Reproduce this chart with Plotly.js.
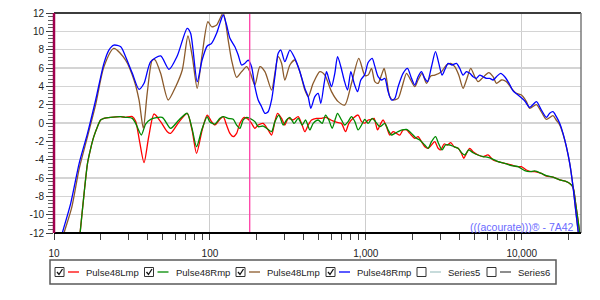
<!DOCTYPE html>
<html><head><meta charset="utf-8">
<script src="https://cdn.plot.ly/plotly-3.0.1.min.js"></script>
<style>html,body{margin:0;padding:0;background:#fff}#chart{width:600px;height:300px}</style>
</head><body><div id="chart"></div>
<script>
// ---------------- data ----------------
const seriesNames = ['Pulse48Lmp', 'Pulse48Rmp', 'Pulse48Lmp', 'Pulse48Rmp', 'Series5', 'Series6'];
const seriesChecked = [true, true, true, true, false, false];

// [frequency Hz, level dB]
const redCurve = [[14.4,-13.5],[14.7,-12],[15.6,-7.67],[16.4,-4.4],[17.2,-2.76],[18.0,-1.49],[19.0,-0.4],[19.9,0.33],[20.9,0.51],[23.1,0.62],[26.8,0.69],[28.8,0.62],[31.8,0.7],[33.4,0.2],[35.3,-1.9],[37.8,-4.33],[40.5,-1.5],[43.8,0.98],[48.3,0.15],[53.3,-0.95],[56,-1.13],[63.3,0.1],[71.5,1.06],[76.8,-0.76],[82.1,-3.31],[89.2,-0.76],[96.1,0.87],[102.5,0.15],[107.7,-0.22],[115.9,0.4],[121.7,0.69],[127.9,-0.22],[134.4,-1.13],[141.1,-1.49],[148.3,-1.13],[155.7,-0.04],[166,0.62],[176.1,0.4],[185,-0.04],[194.3,-0.58],[204,-0.22],[219.6,-0.04],[236.4,-0.76],[248.6,-1.31],[261.1,0.15],[271.6,1.06],[288.2,0.51],[302.5,-0.22],[317.7,0.51],[342,0.33],[368.2,0.69],[387,-0.04],[406.4,-0.95],[426.9,-0.22],[448.7,0.33],[483,0.51],[520,0.51],[555,0.62],[596.8,0.33],[632.6,0.15],[664.7,0.04],[698.4,-0.04],[741.2,-0.95],[778.4,-0.04],[829.3,0.51],[892.4,0.87],[938.5,0.15],[990,0.0],[1035,0.33],[1088,0.4],[1130,0.51],[1189,-0.76],[1248,-0.04],[1291,0.33],[1357,-0.4],[1425,-1.31],[1496,-0.95],[1573,-1.13],[1652,-1.31],[1734,-0.76],[1824,-0.76],[1915,-1.13],[2061,-1.67],[2163,-1.49],[2275,-2.04],[2389,-2.58],[2509,-2.76],[2637,-2.4],[2769,-2.04],[2909,-2.76],[3026,-2.94],[3177,-2.29],[3340,-2.4],[3508,-2.14],[3681,-2.58],[3906,-2.76],[4108,-3.31],[4249,-3.85],[4420,-3.31],[4642,-2.76],[4874,-3.13],[5248,-3.49],[5650,-3.67],[6081,-3.49],[6549,-4.03],[7047,-4.22],[7780,-4.4],[8590,-4.58],[9250,-4.76],[9955,-4.76],[10720,-5.13],[11540,-5.31],[12110,-5.31],[13370,-5.5],[14390,-5.8],[15870,-5.9],[17520,-6.2],[19340,-6.4],[20320,-6.6],[21330,-7.0],[22180,-8.8],[22960,-10.6],[23500,-12],[24000,-13]];

const greenCurve = [[14.4,-13.5],[14.7,-12],[15.6,-7.67],[16.4,-4.4],[17.2,-2.76],[18.0,-1.49],[19.0,-0.4],[19.9,0.33],[20.9,0.51],[23.1,0.62],[26.8,0.69],[28.8,0.62],[31.8,0.51],[33.4,-0.04],[36.3,-1.31],[38.7,-0.11],[41.7,0.4],[49.4,0.62],[56,-0.58],[63.3,0.33],[71.5,1.06],[76.8,-0.6],[82.1,-2.58],[89.2,-0.6],[96.1,0.69],[100,0.1],[107.7,-0.11],[115.9,0.51],[121.7,0.69],[131,0.51],[141.1,0.4],[148.3,-0.22],[155.7,-0.58],[163.5,0.33],[171.9,0.62],[180.4,0.51],[194.3,0.15],[204,-0.4],[219.6,-0.33],[230.8,-0.58],[248.6,-0.95],[261.1,0.15],[276.8,0.87],[295.1,-0.22],[310.2,0.33],[325.8,0.62],[347,-0.04],[368.2,0.51],[390.7,-0.22],[410.7,0.33],[437.5,-0.76],[459.6,-0.04],[494.7,0.33],[524.8,-0.04],[551.6,0.87],[579.4,0.33],[608.2,-0.58],[639.2,0.51],[658.6,1.06],[698.4,0.33],[733.3,-0.22],[770.3,0.15],[809.3,0.69],[850.6,0.15],[892.4,-0.76],[938.5,-0.22],[985,0.4],[1035,-0.04],[1098,0.51],[1154,0.15],[1230,-0.4],[1324,-0.04],[1390,-0.76],[1461,-1.31],[1535,-1.13],[1611,-0.95],[1709,-0.76],[1824,-0.7],[1963,-1.13],[2113,-1.67],[2219,-1.85],[2389,-2.4],[2509,-2.76],[2637,-2.04],[2798,-1.49],[2938,-2.29],[3084,-2.94],[3242,-2.4],[3456,-2.4],[3681,-2.58],[3906,-2.76],[4145,-3.31],[4313,-3.49],[4573,-2.94],[4874,-3.24],[5248,-3.49],[5650,-3.67],[6081,-3.74],[6549,-3.96],[7047,-4.22],[7780,-4.4],[8590,-4.65],[9470,-4.76],[10460,-5.2],[11250,-5.31],[12110,-5.23],[13370,-5.5],[14390,-5.75],[15870,-5.9],[17520,-6.2],[19340,-6.4],[20320,-6.6],[21330,-7.0],[22180,-8.8],[22960,-10.6],[23600,-12],[24000,-13]];

const brownCurve = [[11.05,-13.5],[11.6,-12],[13.0,-9.2],[14.5,-5.0],[16.4,-1.49],[18.5,2.0],[20.9,6.14],[24.2,8.14],[28.8,6.87],[32.6,4.69],[35.1,2.51],[37.4,-0.58],[39.6,3.24],[42.7,6.87],[44.4,6.9],[48.3,5.42],[54.0,2.51],[60.3,3.96],[66.5,5.78],[72.3,9.49],[77.1,7.23],[82.9,3.78],[89.2,7.5],[97.1,11.05],[102.5,10.5],[110.4,10.69],[121.7,12.0],[131,9.05],[137.7,6.87],[148.3,4.98],[159.7,5.6],[171.9,6.14],[180.4,5.6],[194.3,4.14],[209.2,6.14],[225.3,5.6],[248.6,3.6],[261.1,5.42],[274.1,7.23],[288.2,6.51],[302.5,4.69],[325.8,6.33],[350.6,6.87],[377.6,5.6],[406.4,3.6],[426.9,2.87],[459.6,4.33],[507.1,5.6],[546,5.23],[602.6,3.42],[664.7,2.33],[733.3,1.96],[809.3,4.33],[901.7,7.05],[985,5.2],[1035,5.23],[1088,5.96],[1142,4.51],[1199,4.33],[1261,5.23],[1310,5.96],[1357,4.87],[1425,2.87],[1496,2.51],[1611,2.69],[1709,3.96],[1824,5.42],[1915,4.87],[2061,3.96],[2163,4.69],[2296,5.42],[2449,4.33],[2610,5.13],[2769,5.23],[3056,5.6],[3289,6.33],[3508,6.51],[3720,6.14],[3945,5.23],[4205,3.78],[4420,4.69],[4712,5.96],[5000,5.05],[5248,4.51],[5566,4.87],[5853,5.23],[6143,5.49],[6549,5.05],[6885,4.33],[7413,4.69],[7980,4.51],[8590,3.78],[9250,3.24],[9955,3.05],[10720,2.33],[11250,1.6],[12420,2.0],[13370,1.2],[14390,0.4],[15870,0.8],[16680,0.3],[17520,-0.2],[18400,-1.2],[19340,-2.6],[20320,-4.4],[21330,-6.9],[22180,-9.5],[22960,-11.7],[23640,-13.5]];

const blueCurve = [[10.7,-13.5],[11.3,-12.0],[12.8,-8.76],[14.5,-4.4],[16.4,-1.13],[18.5,2.51],[20.9,6.51],[22.5,7.96],[24.2,8.5],[26.8,8.32],[28.8,7.23],[31.8,5.42],[35.1,3.67],[37.8,4.33],[41.7,6.69],[48.3,7.31],[54.6,5.85],[61.7,7.31],[71.5,10.33],[75.2,9.78],[82.9,4.51],[89.2,6.9],[96.1,8.4],[102.5,8.69],[110.4,9.78],[115.9,10.87],[121.7,11.78],[127.9,10.69],[134.4,9.24],[144.6,8.32],[151.9,7.42],[159.7,6.33],[167.6,6.51],[176.1,6.87],[185,6.14],[194.3,3.96],[204,2.51],[214.5,1.78],[225.3,1.06],[236.4,1.23],[248.6,2.51],[261.1,5.05],[274.1,7.6],[285.2,7.96],[302.5,6.69],[325.8,7.96],[350.6,7.05],[377.6,5.6],[406.4,3.78],[426.9,2.87],[444,1.6],[471,2.87],[494.7,3.24],[514.6,2.15],[540.4,4.33],[559.8,5.6],[581.6,4.69],[602.6,3.96],[632.6,5.42],[658.6,7.23],[691.7,6.14],[726,4.69],[763.1,3.6],[801.5,5.6],[841.5,4.33],[884.9,3.42],[928.9,4.69],[985,5.3],[1035,6.6],[1098,7.05],[1142,6.2],[1199,5.05],[1261,4.69],[1324,4.87],[1390,3.42],[1461,2.51],[1535,2.69],[1611,3.96],[1734,5.42],[1850,5.96],[1963,4.87],[2061,4.14],[2163,5.05],[2275,5.6],[2389,4.87],[2486,4.51],[2637,6.14],[2798,7.78],[2938,6.51],[3084,5.23],[3206,5.78],[3371,6.51],[3574,6.33],[3814,6.51],[4005,5.96],[4205,5.23],[4420,5.6],[4642,5.42],[4874,5.05],[5124,4.87],[5381,5.23],[5650,5.05],[5940,4.87],[6237,4.87],[6549,4.69],[6885,5.05],[7330,5.42],[7780,5.05],[8377,4.2],[8800,3.5],[9470,3.05],[10460,2.4],[11250,1.71],[12420,2.33],[13370,1.42],[14390,0.62],[15110,1.06],[15870,1.23],[16680,0.69],[17520,-0.04],[18400,-1.13],[19340,-2.58],[20320,-4.4],[21330,-6.94],[22180,-9.49],[22960,-11.67],[23640,-13.5]];

const xTickVals = [10, 100, 1000, 10000];
const xTickText = ['10', '100', '1,000', '10,000'];
const yTickVals = [-12, -10, -8, -6, -4, -2, 0, 2, 4, 6, 8, 10, 12];
const yTickText = ['-12', '-10', '-8', '-6', '-4', '-2', '0', '2', '4', '6', '8', '10', '12'];
const xMin = 10, xMax = 24000, yMin = -12, yMax = 12;
const markerFreq = 180;
const watermarkText = '(((acourate)))® - 7A42';

// ---------------- styles ----------------
const curves = [redCurve, greenCurve, brownCurve, blueCurve];
const seriesColors = ['#ff0000', '#008a00', '#8b5a2b', '#0000ff', '#a9c8c8', '#505050'];
const FONT = 'Liberation Sans, Arial, sans-serif';

// plot area in pixels
const L = 54, R = 581, T = 13, B = 233;
const W = R - L, H = B - T;
const px = x => (x - L) / W;
const py = y => (B - y) / H;

const traces = curves.map((c, i) => ({
  type: 'scatter', mode: 'lines',
  x: c.map(p => p[0]), y: c.map(p => p[1]),
  name: seriesNames[i],
  line: {color: seriesColors[i], width: 1.3, shape: 'spline', smoothing: 0.7},
  hoverinfo: 'skip', showlegend: false
}));

const minorX = [];
for (let d = 10; d <= 10000; d *= 10) for (let k = 2; k <= 9; k++) if (d * k <= xMax) minorX.push(d * k);

const shapes = [
  // vertical marker
  {type: 'line', xref: 'x', yref: 'paper', x0: markerFreq, x1: markerFreq, y0: 0, y1: 1,
   line: {color: '#ff3fa6', width: 1.3}},
  // frame
  {type: 'line', xref: 'paper', yref: 'paper', x0: 0, x1: 1, y0: 1, y1: 1, line: {color: '#3c3c3c', width: 2}},
  {type: 'line', xref: 'paper', yref: 'paper', x0: 1, x1: 1, y0: 0, y1: 1, line: {color: '#7a7a7a', width: 1.5}},
  {type: 'line', xref: 'paper', yref: 'paper', x0: 0, x1: 1, y0: 0, y1: 0, line: {color: '#000000', width: 2}},
  {type: 'line', xref: 'paper', yref: 'paper', x0: 0, x1: 0, y0: 0, y1: 1, line: {color: '#a0004e', width: 2.5}},
];

// legend (drawn below the plot)
const legendItemX = [55, 144.5, 236, 326, 417, 487];
const legY = 272;
const annotations = [];
shapes.push({type: 'rect', xref: 'paper', yref: 'paper', x0: px(50), x1: px(556), y0: py(260), y1: py(284),
  line: {color: '#5a5a5a', width: 1.5}, fillcolor: 'rgba(0,0,0,0)'});
seriesNames.forEach((nm, i) => {
  const cx = legendItemX[i];
  shapes.push({type: 'rect', xref: 'paper', yref: 'paper', x0: px(cx), x1: px(cx + 9), y0: py(legY - 4.5), y1: py(legY + 4.5),
    line: {color: '#333333', width: 1}, fillcolor: '#ffffff'});
  if (seriesChecked[i]) {
    shapes.push({type: 'path', xref: 'paper', yref: 'paper',
      path: `M ${px(cx + 2)},${py(legY)} L ${px(cx + 4)},${py(legY + 2.5)} L ${px(cx + 7.5)},${py(legY - 3)}`,
      line: {color: '#111111', width: 1.3}});
  }
  shapes.push({type: 'line', xref: 'paper', yref: 'paper', x0: px(cx + 13), x1: px(cx + 24), y0: py(legY), y1: py(legY),
    line: {color: seriesColors[i], width: 1.3}});
  annotations.push({xref: 'paper', yref: 'paper', x: px(cx + 29), y: py(legY), xanchor: 'left', yanchor: 'middle',
    text: nm, showarrow: false, font: {family: FONT, size: 9.5, color: '#222222'}});
});

annotations.push({xref: 'paper', yref: 'paper', x: px(576), y: py(227), xanchor: 'right', yanchor: 'middle',
  text: watermarkText, showarrow: false, font: {family: FONT, size: 10.5, color: '#6a6aff'}});

const layout = {
  width: 600, height: 300,
  margin: {l: L, r: 600 - R, t: T, b: 300 - B, pad: 0},
  paper_bgcolor: '#ffffff', plot_bgcolor: '#ffffff',
  showlegend: false,
  xaxis: {
    type: 'log', range: [Math.log10(xMin), Math.log10(xMax)],
    tickmode: 'array', tickvals: xTickVals, ticktext: xTickText,
    ticks: 'outside', ticklen: 6, tickwidth: 1, tickcolor: '#404040',
    ticklabelstandoff: 5,
    showgrid: true, gridcolor: '#cdcdcd', gridwidth: 1,
    showline: false, zeroline: false,
    tickfont: {family: FONT, size: 10, color: '#222222'},
    minor: {tickmode: 'array', tickvals: minorX, ticks: 'outside', ticklen: 6, tickcolor: '#404040', tickwidth: 1, showgrid: false},
    fixedrange: true
  },
  yaxis: {
    range: [yMin, yMax],
    tickmode: 'array', tickvals: yTickVals, ticktext: yTickText,
    ticks: 'outside', ticklen: 7, tickwidth: 1, tickcolor: '#404040',
    showgrid: true, gridcolor: '#d4d4d4', gridwidth: 1.5,
    showline: false, zeroline: false,
    tickfont: {family: FONT, size: 10, color: '#222222'},
    minor: {tick0: 0, dtick: 0.4, ticks: 'outside', ticklen: 5, tickcolor: '#606060', tickwidth: 1, showgrid: false},
    fixedrange: true
  },
  shapes: shapes,
  annotations: annotations
};

Plotly.newPlot('chart', traces, layout, {staticPlot: true, displayModeBar: false});
</script>
</body></html>
